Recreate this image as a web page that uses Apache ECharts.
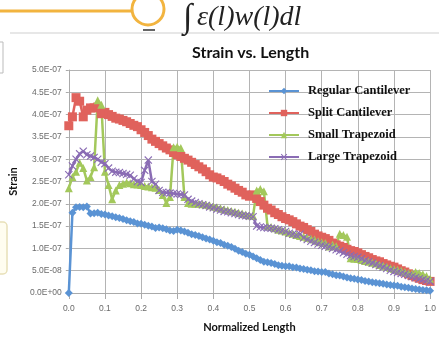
<!DOCTYPE html>
<html>
<head>
<meta charset="utf-8">
<script src="https://cdn.jsdelivr.net/npm/echarts@6/dist/echarts.min.js"></script>
<style>
  html, body { margin: 0; padding: 0; background: #fff; }
  #main { width: 439px; height: 338px; }
</style>
</head>
<body>
<div id="main"></div>
<script>
// normalized length positions
const lengths = [
  0.00, 0.01, 0.02, 0.03, 0.04, 0.05, 0.06, 0.07, 0.08, 0.09,
  0.10, 0.11, 0.12, 0.13, 0.14, 0.15, 0.16, 0.17, 0.18, 0.19,
  0.20, 0.21, 0.22, 0.23, 0.24, 0.25, 0.26, 0.27, 0.28, 0.29,
  0.30, 0.31, 0.32, 0.33, 0.34, 0.35, 0.36, 0.37, 0.38, 0.39,
  0.40, 0.41, 0.42, 0.43, 0.44, 0.45, 0.46, 0.47, 0.48, 0.49,
  0.50, 0.51, 0.52, 0.53, 0.54, 0.55, 0.56, 0.57, 0.58, 0.59,
  0.60, 0.61, 0.62, 0.63, 0.64, 0.65, 0.66, 0.67, 0.68, 0.69,
  0.70, 0.71, 0.72, 0.73, 0.74, 0.75, 0.76, 0.77, 0.78, 0.79,
  0.80, 0.81, 0.82, 0.83, 0.84, 0.85, 0.86, 0.87, 0.88, 0.89,
  0.90, 0.91, 0.92, 0.93, 0.94, 0.95, 0.96, 0.97, 0.98, 0.99,
  1.00
];

// strain values, in units of 1e-7
const regular = [
  0, 1.80, 1.92, 1.93, 1.92, 1.94, 1.78, 1.79, 1.80, 1.77,
  1.76, 1.74, 1.72, 1.70, 1.68, 1.66, 1.63, 1.61, 1.59, 1.56,
  1.55, 1.53, 1.51, 1.49, 1.46, 1.47, 1.45, 1.43, 1.40, 1.39,
  1.42, 1.40, 1.38, 1.35, 1.32, 1.30, 1.28, 1.25, 1.22, 1.20,
  1.17, 1.14, 1.12, 1.08, 1.06, 1.03, 0.99, 0.95, 0.92, 0.88,
  0.86, 0.82, 0.78, 0.74, 0.70, 0.69, 0.67, 0.65, 0.62, 0.61,
  0.60, 0.60, 0.58, 0.57, 0.55, 0.54, 0.52, 0.51, 0.49, 0.48,
  0.47, 0.47, 0.44, 0.42, 0.40, 0.39, 0.37, 0.35, 0.33, 0.32,
  0.30, 0.29, 0.27, 0.26, 0.24, 0.23, 0.22, 0.21, 0.19, 0.18,
  0.17, 0.16, 0.14, 0.13, 0.12, 0.10, 0.09, 0.08, 0.07, 0.06,
  0.05
];
const split = [
  3.75, 3.95, 4.38, 4.30, 3.95, 4.10, 4.15, 4.15, 4.17, 4.02,
  4.05, 4.00, 3.96, 3.92, 3.90, 3.87, 3.84, 3.80, 3.76, 3.73,
  3.66, 3.60, 3.53, 3.45, 3.40, 3.35, 3.30, 3.25, 3.21, 3.15,
  3.10, 3.06, 3.02, 2.98, 2.93, 2.88, 2.83, 2.78, 2.72, 2.65,
  2.60, 2.58, 2.54, 2.50, 2.44, 2.40, 2.35, 2.30, 2.26, 2.20,
  2.17, 2.20, 2.12, 2.05, 1.97, 1.90, 1.86, 1.80, 1.76, 1.71,
  1.67, 1.64, 1.60, 1.55, 1.50, 1.47, 1.42, 1.38, 1.32, 1.28,
  1.25, 1.22, 1.18, 1.12, 1.08, 1.05, 1.02, 0.98, 0.95, 0.93,
  0.90, 0.86, 0.82, 0.79, 0.75, 0.72, 0.70, 0.66, 0.63, 0.60,
  0.58, 0.54, 0.50, 0.47, 0.43, 0.39, 0.36, 0.33, 0.30, 0.28,
  0.26
];
const smallTrap = [
  2.35, 2.60, 2.72, 2.92, 2.80, 2.52, 2.60, 2.82, 4.32, 4.22,
  2.72, 2.42, 2.10, 2.30, 2.42, 2.45, 2.48, 2.46, 2.44, 2.43,
  2.42, 2.40, 2.39, 2.37, 2.36, 2.31, 2.20, 2.02, 2.15, 3.27,
  3.28, 3.25, 2.15, 2.02, 2.00, 2.00, 2.00, 1.99, 1.98, 1.96,
  1.94, 1.92, 1.90, 1.88, 1.86, 1.84, 1.82, 1.80, 1.78, 1.76,
  1.74, 1.73, 2.30, 2.33, 2.28, 1.50, 1.48, 1.45, 1.42, 1.40,
  1.38, 1.35, 1.33, 1.30, 1.28, 1.26, 1.24, 1.22, 1.20, 1.16,
  1.14, 1.12, 1.04, 1.08, 1.05, 1.33, 1.30, 1.26, 0.78, 0.77,
  0.76, 0.74, 0.72, 0.70, 0.68, 0.66, 0.63, 0.61, 0.59, 0.56,
  0.54, 0.52, 0.50, 0.47, 0.45, 0.44, 0.47, 0.45, 0.42, 0.38,
  0.32
];
const largeTrap = [
  2.65, 2.85, 3.00, 3.12, 3.18, 3.10, 3.07, 3.04, 3.00, 2.93,
  2.90, 2.80, 2.73, 2.71, 2.70, 2.68, 2.66, 2.64, 2.56, 2.50,
  2.48, 2.75, 2.98, 2.50, 2.44, 2.30, 2.26, 2.25, 2.24, 2.23,
  2.22, 2.21, 2.20, 2.10, 2.06, 2.03, 2.00, 1.98, 1.96, 1.93,
  1.91, 1.88, 1.86, 1.83, 1.82, 1.80, 1.78, 1.76, 1.74, 1.73,
  1.72, 1.71, 1.50, 1.48, 1.47, 1.46, 1.45, 1.44, 1.42, 1.40,
  1.38, 1.34, 1.32, 1.30, 1.32, 1.24, 1.20, 1.16, 1.13, 1.10,
  1.07, 1.05, 1.03, 1.00, 0.97, 0.94, 0.90, 0.87, 0.84, 0.82,
  0.80, 0.77, 0.73, 0.70, 0.67, 0.64, 0.61, 0.58, 0.55, 0.51,
  0.48, 0.46, 0.44, 0.42, 0.39, 0.37, 0.35, 0.32, 0.30, 0.28,
  0.26
];

const seriesNames = ['Regular Cantilever', 'Split Cantilever', 'Small Trapezoid', 'Large Trapezoid'];
const seriesValues = [regular, split, smallTrap, largeTrap];
const colors = ['#5a93d4', '#e0625c', '#a3c85b', '#8a6cb4'];
const symbols = [
  'diamond',
  'rect',
  'triangle',
  'path://M0,1L1,0L5,4L9,0L10,1L6,5L10,9L9,10L5,6L1,10L0,9L4,5Z',
];
const symbolSizes = [8, 9, 8, 8];

const chart = echarts.init(document.getElementById('main'));

function sciLabel(v) {
  if (v === 0) return '0.0E+00';
  const e = Math.floor(Math.log10(v) + 1e-9);
  const m = v / Math.pow(10, e);
  const exp = e - 7;
  return m.toFixed(1) + 'E' + (exp < 0 ? '-' : '+') + String(Math.abs(exp)).padStart(2, '0');
}

const option = {
  backgroundColor: '#fff',
  animation: false,
  color: colors,
  title: {
    text: 'Strain vs. Length',
    left: 187,
    top: 40,
    textStyle: { fontFamily: 'Lato', fontWeight: 'bold', fontSize: 16, color: '#111' },
  },
  legend: {
    orient: 'vertical',
    left: 263,
    top: 79,
    itemWidth: 30,
    itemHeight: 8,
    itemGap: 8,
    data: seriesNames,
    textStyle: {
      fontFamily: 'Liberation Serif',
      fontWeight: 'bold',
      fontSize: 12.5,
      lineHeight: 14,
      color: '#111',
      padding: [0, 0, 0, 4],
    },
  },
  grid: { left: 67, right: 5, top: 70, bottom: 40 },
  xAxis: {
    type: 'value',
    min: 0,
    max: 1,
    interval: 0.1,
    name: 'Normalized Length',
    nameLocation: 'middle',
    nameGap: 29,
    nameTextStyle: { fontFamily: 'Lato', fontWeight: 'bold', fontSize: 11, color: '#111' },
    axisLine: { show: true, lineStyle: { color: '#aaa' } },
    axisTick: { show: true, length: 6, lineStyle: { color: '#aaa' } },
    axisLabel: {
      fontFamily: 'Liberation Sans', fontSize: 8.5, color: '#6a6a6a', margin: 11,
      formatter: (v) => v.toFixed(1),
    },
    splitLine: { show: true, lineStyle: { color: '#b4b4b4', width: 1 } },
  },
  yAxis: {
    type: 'value',
    min: 0,
    max: 5,
    interval: 0.5,
    name: 'Strain',
    nameLocation: 'middle',
    nameGap: 46,
    nameTextStyle: { fontFamily: 'Lato', fontWeight: 'bold', fontSize: 11, color: '#111' },
    axisLine: { show: true, lineStyle: { color: '#aaa' } },
    axisTick: { show: true, length: 3, lineStyle: { color: '#aaa' } },
    axisLabel: {
      fontFamily: 'Liberation Sans', fontSize: 8.5, color: '#6a6a6a', margin: 7,
      formatter: sciLabel,
    },
    splitLine: { show: true, lineStyle: { color: '#b4b4b4', width: 1 } },
  },
  graphic: [
    { type: 'line', shape: { x1: 0, y1: 11, x2: 132, y2: 11 }, style: { stroke: '#f2b43f', lineWidth: 3 } },
    { type: 'circle', shape: { cx: 148, cy: 9, r: 16 }, style: { fill: 'none', stroke: '#f2b43f', lineWidth: 3 } },
    { type: 'rect', shape: { x: 143, y: 29, width: 12, height: 2 }, style: { fill: '#666' } },
    { type: 'line', shape: { x1: 10, y1: 33, x2: 439, y2: 33 }, style: { stroke: '#cfcfcf', lineWidth: 1 } },
    { type: 'rect', shape: { x: -4, y: 42, width: 7, height: 31 }, style: { fill: 'none', stroke: '#bbb', lineWidth: 1 } },
    { type: 'rect', shape: { x: -10, y: 222, width: 17, height: 52, r: 4 }, style: { fill: '#fffdf0', stroke: '#e8e0b8', lineWidth: 1.5 } },
    { type: 'text', left: 183, top: 1, style: { text: '\u222B', font: '34px "Liberation Serif"', fill: '#222' } },
    { type: 'text', left: 197, top: 4, style: { text: '\u03B5(l)w(l)dl', font: 'italic 28px "Liberation Serif"', fill: '#222' } },
  ],
  series: seriesValues.map((vals, i) => ({
    name: seriesNames[i],
    type: 'line',
    data: vals.map((v, j) => [lengths[j], v]),
    symbol: symbols[i],
    symbolSize: symbolSizes[i],
    showAllSymbol: true,
    lineStyle: { width: 2.5, color: colors[i] },
    itemStyle: { color: colors[i] },
  })),
};
chart.setOption(option);
</script>
</body>
</html>
